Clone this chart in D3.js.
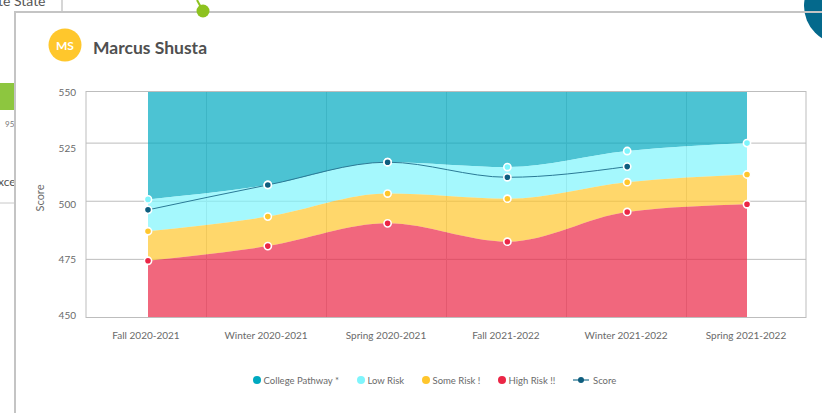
<!DOCTYPE html>
<html lang="en">
<head>
    <meta charset="UTF-8">
    <title>Marcus Shusta | Score</title>
    <script src="https://d3js.org/d3.v7.min.js"></script>
    <style>
        body { margin: 0; background: #fff; }
        svg { display: block; font-family: Lato, "Open Sans", sans-serif; }
    </style>
</head>
<body>
    <svg width="822" height="413"></svg>

    <script>
        // chart data
        const periods = ["Fall 2020-2021", "Winter 2020-2021", "Spring 2020-2021",
                         "Fall 2021-2022", "Winter 2021-2022", "Spring 2021-2022"];
        const highRisk = [474.4, 480.7, 490.5, 482.6, 495.4, 498.7];
        const someRisk = [487.1, 493.4, 503.3, 501.1, 508.2, 511.5];
        const lowRisk  = [500.8, 507.0, 516.8, 514.7, 521.6, 525.0];
        const score    = [496.3, 507.0, 516.8, 510.3, 514.9, null];
        const yTicks = [450, 475, 500, 525, 550];
        const legendNames = ["College Pathway *", "Low Risk", "Some Risk !", "High Risk !!", "Score"];

        const colors = {
            college: "#00a9c0",
            low: "#7ff5fc",
            some: "#ffc62c",
            high: "#eb2646",
            score: "#0e5d7e"
        };

        let svg = d3.select("svg");
        let plotLeft = 86, plotRight = 806, plotTop = 91.5, plotBottom = 317.5;

        // ---- page bits behind the card ----
        svg.append("text").attr("x", -2).attr("y", 6)
            .style("font-size", "14px").attr("fill", "#555").text("te State");
        svg.append("line").attr("x1", 62).attr("x2", 62).attr("y1", 0).attr("y2", 12)
            .attr("stroke", "#c8c8c8").attr("stroke-width", 1.5);
        svg.append("rect").attr("x", 0).attr("y", 83).attr("width", 14).attr("height", 27)
            .attr("fill", "#8dc63f");
        svg.append("text").attr("x", 5).attr("y", 127)
            .style("font-size", "8px").attr("fill", "#777").text("95");
        svg.append("text").attr("x", -2).attr("y", 186)
            .style("font-size", "12px").attr("fill", "#555").text("xce");
        svg.append("line").attr("x1", 0).attr("x2", 14).attr("y1", 203).attr("y2", 203)
            .attr("stroke", "#c8c8c8");
        svg.append("circle").attr("cx", 842).attr("cy", 6).attr("r", 38).attr("fill", "#04698c");

        // card border
        svg.append("path")
            .attr("d", "M15,413 V12 H822")
            .attr("fill", "none").attr("stroke", "#c4c4c4").attr("stroke-width", 2);
        svg.append("line").attr("x1", 197).attr("y1", 0).attr("x2", 203).attr("y2", 11)
            .attr("stroke", "#8dc21f").attr("stroke-width", 2);
        svg.append("circle").attr("cx", 203).attr("cy", 11).attr("r", 6.5).attr("fill", "#8dc21f");

        // header
        svg.append("circle").attr("cx", 65).attr("cy", 45).attr("r", 16.5).attr("fill", "#ffc72c");
        svg.append("text").attr("x", 65).attr("y", 49.5).attr("text-anchor", "middle")
            .style("font-size", "12px").style("font-weight", "bold").attr("fill", "#fff").text("MS");
        svg.append("text").attr("x", 93).attr("y", 53.5)
            .style("font-size", "17.5px").style("font-weight", "bold").attr("fill", "#505050")
            .text("Marcus Shusta");

        // ---- scales ----
        let y = d3.scaleLinear().domain([450, 547.2]).range([plotBottom, plotTop]).clamp(true);
        let yLabel = d3.scaleLinear().domain([450, 550]).range([315, 92.6]);
        let xBand = d3.scaleBand().domain(periods).range([plotLeft, plotRight]);
        let x = d3.scalePoint().domain(periods).range([148, 747]);

        // grid (under the translucent areas)
        let grid = svg.append("g");
        grid.selectAll(".hg")
            .data(yTicks.slice(1, 4))
            .enter().append("line")
            .attr("x1", plotLeft).attr("x2", plotRight)
            .attr("y1", d => y(d)).attr("y2", d => y(d))
            .attr("stroke", "#bdbdbd");
        grid.selectAll(".vg")
            .data(periods.slice(1))
            .enter().append("line")
            .attr("x1", d => xBand(d) + 0.5).attr("x2", d => xBand(d) + 0.5)
            .attr("y1", plotTop).attr("y2", plotBottom)
            .attr("stroke", "#cfcfcf");

        // stacked bands
        let rows = periods.map((p, i) => ({
            p: p, high: highRisk[i], some: someRisk[i], low: lowRisk[i], score: score[i]
        }));
        let curve = d3.curveMonotoneX;
        let band = (lo, hi) => d3.area()
            .x(d => x(d.p))
            .y0(d => lo == null ? y(450) : y(d[lo]))
            .y1(d => hi == null ? y(550) : y(d[hi]))
            .curve(curve);

        let areas = svg.append("g");
        areas.append("path").attr("d", band("low", null)(rows))
            .attr("fill", colors.college).attr("fill-opacity", 0.7);
        areas.append("path").attr("d", band("some", "low")(rows))
            .attr("fill", colors.low).attr("fill-opacity", 0.7);
        areas.append("path").attr("d", band("high", "some")(rows))
            .attr("fill", colors.some).attr("fill-opacity", 0.7);
        areas.append("path").attr("d", band(null, "high")(rows))
            .attr("fill", colors.high).attr("fill-opacity", 0.7);

        // plot frame
        svg.append("rect")
            .attr("x", plotLeft).attr("y", plotTop)
            .attr("width", plotRight - plotLeft).attr("height", plotBottom - plotTop)
            .attr("fill", "none").attr("stroke", "#bdbdbd");

        // score line
        let scoreRows = rows.filter(d => d.score != null);
        svg.append("path")
            .attr("d", d3.line().x(d => x(d.p)).y(d => y(d.score)).curve(curve)(scoreRows))
            .attr("fill", "none").attr("stroke", "#2b7a96").attr("stroke-width", 1);

        // markers
        let markerSets = [["high", colors.high], ["some", colors.some], ["low", colors.low], ["score", colors.score]];
        markerSets.forEach(([key, col]) => {
            svg.append("g").selectAll("circle")
                .data(rows.filter(d => d[key] != null))
                .enter().append("circle")
                .attr("cx", d => x(d.p))
                .attr("cy", d => y(d[key]))
                .attr("r", 3.6)
                .attr("fill", col)
                .attr("stroke", "#fff").attr("stroke-width", 1.6);
        });

        // axes
        let yAxis = svg.append("g")
            .attr("transform", "translate(76,0)")
            .call(d3.axisLeft(yLabel).tickValues(yTicks).tickSize(0).tickPadding(0));
        yAxis.select(".domain").remove();
        yAxis.selectAll("text").style("font-size", "10px").style("font-family", "Lato, sans-serif")
            .attr("fill", "#6a6a6a");

        let xAxis = svg.append("g")
            .attr("transform", "translate(0," + plotBottom + ")")
            .call(d3.axisBottom(xBand).tickSize(0).tickPadding(14));
        xAxis.select(".domain").remove();
        xAxis.selectAll("text").style("font-size", "10px").style("font-family", "Lato, sans-serif")
            .attr("fill", "#6a6a6a");

        svg.append("text")
            .attr("transform", "translate(44,198) rotate(-90)")
            .attr("text-anchor", "middle")
            .style("font-size", "11px").attr("fill", "#6a6a6a")
            .text("Score");

        // legend
        let legendCols = [colors.college, colors.low, colors.some, colors.high, colors.score];
        let legendX = [257, 361, 426, 502, 581];
        let legend = svg.append("g").attr("transform", "translate(0,380)");
        legendNames.forEach((name, i) => {
            let g = legend.append("g").attr("transform", "translate(" + legendX[i] + ",0)");
            if (name == "Score") {
                g.append("line").attr("x1", -8).attr("x2", 8)
                    .attr("stroke", "#1f6f8d").attr("stroke-width", 1.2);
                g.append("circle").attr("r", 3).attr("fill", legendCols[i]);
                g.append("text").attr("x", 12).attr("y", 3.5)
                    .style("font-size", "9.5px").attr("fill", "#6a6a6a").text(name);
            } else {
                g.append("circle").attr("r", 4).attr("fill", legendCols[i]);
                g.append("text").attr("x", 6.5).attr("y", 3.5)
                    .style("font-size", "9.5px").attr("fill", "#6a6a6a").text(name);
            }
        });
    </script>
</body>
</html>
